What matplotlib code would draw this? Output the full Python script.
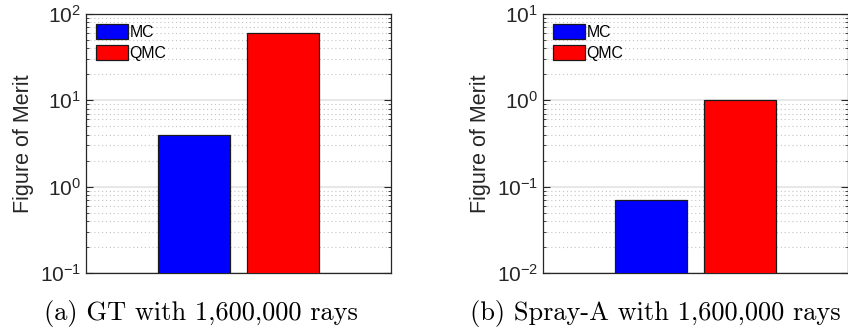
import numpy as np
import matplotlib
matplotlib.use('Agg')
import matplotlib.pyplot as plt

# данные
methods = ['MC', 'QMC']
colors = ['#0000ff', '#ff0000']
gt_vals = [4.0, 60.0]
spray_vals = [0.07, 1.0]
captions = ['(a) GT with 1,600,000 rays', '(b) Spray-A with 1,600,000 rays']
ylims = [(0.1, 100), (0.01, 10)]

plt.rcParams['font.family'] = ['Liberation Sans', 'DejaVu Sans']
plt.rcParams['mathtext.fontset'] = 'custom'
plt.rcParams['mathtext.rm'] = 'Liberation Sans'
plt.rcParams['mathtext.it'] = 'Liberation Sans:italic'
plt.rcParams['mathtext.default'] = 'regular'
plt.rcParams['axes.unicode_minus'] = False

fig = plt.figure(figsize=(8.48, 3.33), dpi=100)
positions = [[0.1014, 0.1802, 0.3597, 0.7778], [0.6403, 0.1802, 0.3597, 0.7778]]
cap_x = [201 / 848, 655 / 848]

for i, vals in enumerate([gt_vals, spray_vals]):
    ax = fig.add_axes(positions[i])
    x = np.arange(1, len(vals) + 1)
    for j in range(len(vals)):
        ax.bar(x[j], vals[j], width=0.8, color=colors[j], edgecolor='#1a1a1a',
               linewidth=0.9, label=methods[j], zorder=3)
    ax.set_yscale('log')
    ax.set_ylim(*ylims[i])
    ax.set_xlim(-0.2, 3.2)
    ax.set_xticks([])
    ax.grid(True, which='major', axis='y', color='#e3e3e3', linestyle='-', linewidth=1.2, zorder=0)
    ax.grid(True, which='minor', axis='y', color='#c4c4c4', linestyle=(0, (1, 2.5)), linewidth=0.8, zorder=0)
    ax.tick_params(axis='y', which='both', direction='in', left=True, right=True,
                   labelsize=15, colors='#262626', labelcolor='#262626')
    ax.tick_params(axis='y', which='major', length=5, width=0.8)
    ax.tick_params(axis='y', which='minor', length=2.5, width=0.6)
    for s in ax.spines.values():
        s.set_color('#262626')
        s.set_linewidth(0.9)
    ax.set_ylabel('Figure of Merit', fontsize=15.5, color='#262626', labelpad=4)
    ax.legend(loc='upper left', frameon=False, fontsize=11.4, handlelength=2.0,
              handleheight=1.1, handletextpad=0.1, labelspacing=0.3,
              borderaxespad=0.35, borderpad=0.3)
    fig.text(cap_x[i], 0.04, captions[i], ha='center', va='baseline',
             fontsize=19, family=['cmr10', 'DejaVu Serif'])

fig.savefig('out.png', dpi=100)
